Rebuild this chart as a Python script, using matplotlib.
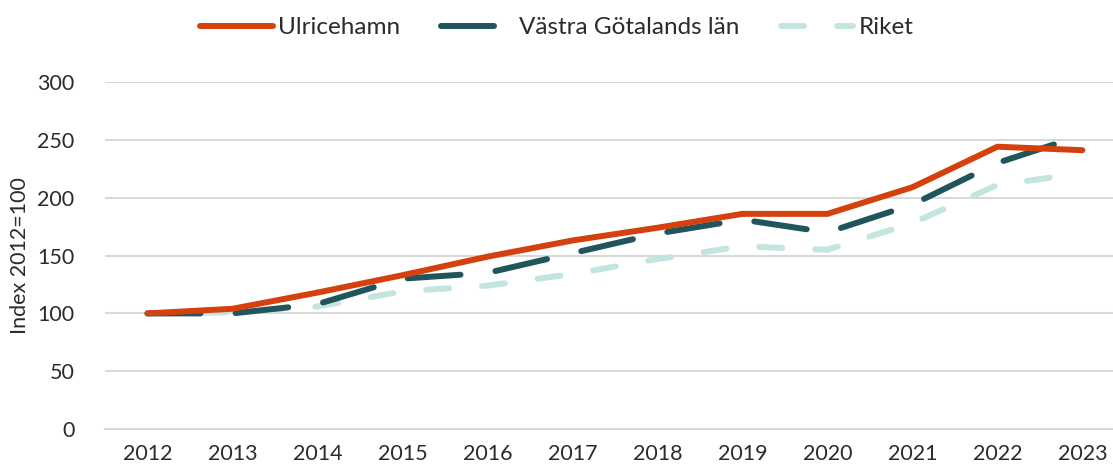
import matplotlib
matplotlib.use("Agg")
import numpy as np
import matplotlib.pyplot as plt
from matplotlib.lines import Line2D

years = ['2012', '2013', '2014', '2015', '2016', '2017', '2018', '2019', '2020', '2021', '2022', '2023']
ulricehamn = [100, 104, 118, 133, 149, 163, 174, 186, 186, 209, 244, 241]
vgr = [100, 100, 108, 130, 135, 152, 169, 181, 170, 194, 230, 254]
riket = [100, 101, 106, 119, 124, 134, 147, 158, 155, 178, 211, 221]

red = '#d5410e'
dark = '#1f555b'
light = '#c2e5e0'
txt = '#2b2b2b'

plt.rcParams['font.family'] = ['Lato', 'DejaVu Sans']

fig = plt.figure(figsize=(11.13, 4.68), dpi=100)
ax = fig.add_axes([0.0943, 0.083, 0.9057, 0.742])

lw = 4.3
px = lw * fig.dpi / 72

x = list(range(len(years)))
ax.set_ylim(0, 300)
ax.set_xlim(-0.5, 11.36)

l_riket, = ax.plot(x, riket, color=light, lw=lw, dash_capstyle='round')
l_vgr, = ax.plot(x, vgr, color=dark, lw=lw, dash_capstyle='round')
ax.plot(x, ulricehamn, color=red, lw=lw, solid_capstyle='round', solid_joinstyle='miter')

# fit the dash pattern so the line ends in a gap, as in the original
def fit_dashes(line, n, on, end_gap):
    xy = ax.transData.transform(np.column_stack(line.get_data()))
    length = np.hypot(*np.diff(xy, axis=0).T).sum()
    period = (length - end_gap - on) / (n - 1)
    line.set_dashes((on / px, (period - on) / px))
    return (on / px, (period - on) / px)

dash_vgr = fit_dashes(l_vgr, 11, 53, 30)
dash_riket = fit_dashes(l_riket, 17, 23, 33)

ax.set_yticks([0, 50, 100, 150, 200, 250, 300])
ax.set_xticks(x)
ax.set_xticklabels(years)
ax.grid(axis='y', color='#d9d9d9', lw=1.5)
ax.set_axisbelow(True)
for s in ['top', 'right', 'left']:
    ax.spines[s].set_visible(False)
ax.spines['bottom'].set_color('#d9d9d9')
ax.spines['bottom'].set_linewidth(1.5)
ax.tick_params(length=0, labelsize=15.5, colors=txt, pad=11)
ax.tick_params(axis='y', pad=22)
ax.set_ylabel('Index 2012=100', fontsize=15.5, color=txt, labelpad=5)

handles = [
    Line2D([], [], color=red, lw=lw, solid_capstyle='round'),
    Line2D([], [], color=dark, lw=lw, dashes=dash_vgr, dash_capstyle='round'),
    Line2D([], [], color=light, lw=lw, dashes=dash_riket, dash_capstyle='round'),
]
fig.legend(handles, ['Ulricehamn', 'Västra Götalands län', 'Riket'], loc='upper center',
           bbox_to_anchor=(0.5, 1.01), ncol=3, frameon=False, fontsize=17.5,
           handlelength=3.0, columnspacing=1.7, handletextpad=0.2, labelcolor=txt)

fig.savefig('out.png', dpi=100)
